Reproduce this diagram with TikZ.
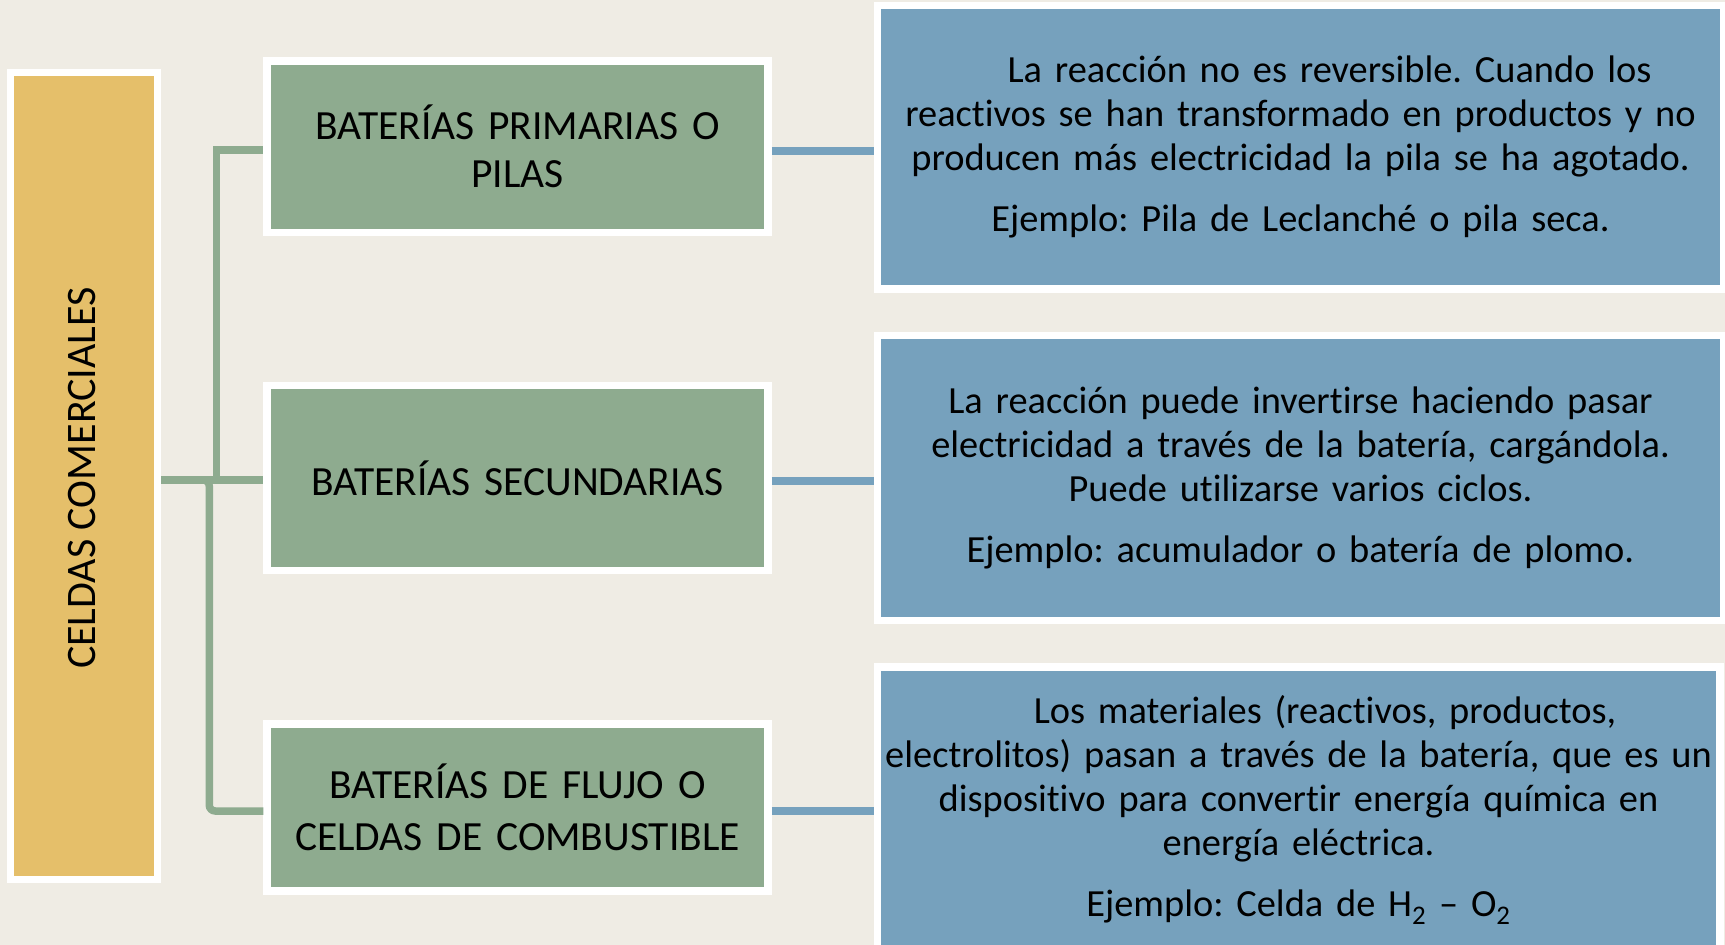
\documentclass[tikz,border=0pt]{standalone}
\usepackage{fontspec}
\setmainfont{Carlito}[Ligatures={NoCommon}]
\definecolor{bgc}{RGB}{239,236,228}
\definecolor{yfill}{RGB}{229,191,106}
\definecolor{gfill}{RGB}{142,171,143}
\definecolor{bfill}{RGB}{118,161,189}
\begin{document}
\frenchspacing
\begin{tikzpicture}[x=1pt,y=-1pt,
  box/.style={draw=white, line width=7.5pt, inner sep=0pt, align=center, font=\fontsize{41.5}{48}\selectfont},
  gbox/.style={box, fill=gfill, minimum width=501pt, text width=495pt},
  bbox/.style={box, fill=bfill, minimum width=846pt, text width=840pt, font=\fontsize{38.4}{44}\selectfont},
  gline/.style={draw=gfill, line width=7.5pt},
  bline/.style={draw=bfill, line width=8pt}]
\useasboundingbox (0,0) rectangle (1725,945);
\fill[bgc] (0,0) rectangle (1725,945);
\node[box, fill=yfill, minimum width=147pt, minimum height=807pt] (yel) at (84,476) {};
\node[font=\fontsize{42}{48}\selectfont, rotate=90, inner sep=0pt] (ytext) at (82,478) {CELDAS COMERCIALES};
\node[gbox, minimum height=171.5pt] (g1) at (517.5,146.75) {BATERÍAS PRIMARIAS O\\PILAS};
\node[gbox, minimum height=185pt] (g2) at (517.5,478) {BATERÍAS SECUNDARIAS};
\node[gbox, minimum height=167pt] (g3) at (517.5,807.5) {BATERÍAS DE FLUJO O\\[4pt]CELDAS DE COMBUSTIBLE};
\node[bbox, minimum height=283.5pt] (b1) at (1300.5,147) {\hspace*{58pt}La reacción no es reversible. Cuando los\\reactivos se han transformado en productos y no\\producen más electricidad la pila se ha agotado.\\[17pt]Ejemplo: Pila de Leclanché o pila seca.};
\node[bbox, minimum height=285pt] (b2) at (1300.5,478) {La reacción puede invertirse haciendo pasar\\electricidad a través de la batería, cargándola.\\Puede utilizarse varios ciclos.\\[17pt]Ejemplo: acumulador o batería de plomo.};
\node[bbox, minimum width=842.5pt, minimum height=286pt] (b3) at (1298.5,810) {\hspace*{53pt}Los materiales (reactivos, productos,\\electrolitos) pasan a través de la batería, que es un\\dispositivo para convertir energía química en\\energía eléctrica.\\[17pt]Ejemplo: Celda de H\textsubscript{2} – O\textsubscript{2}};
\draw[gline] ([yshift=-4pt]yel.east) -| ([xshift=-47pt,yshift=-3pt]g1.west) -- ([yshift=-3pt]g1.west);
\draw[gline] ([yshift=-4pt]yel.east) -- ([yshift=-4pt]yel.east -| g2.west);
\draw[gline, rounded corners=6pt] ([yshift=-4pt]yel.east) -| ([xshift=-54pt,yshift=-3.5pt]g3.west) -- ([yshift=-3.5pt]g3.west);
\draw[bline] ([yshift=-4pt]g1.east) -- ([yshift=-4pt]g1.east -| b1.west);
\draw[bline] ([yshift=-3pt]g2.east) -- ([yshift=-3pt]g2.east -| b2.west);
\draw[bline] ([yshift=-3.5pt]g3.east) -- ([yshift=-3.5pt]g3.east -| b3.west);
\end{tikzpicture}
\end{document}
